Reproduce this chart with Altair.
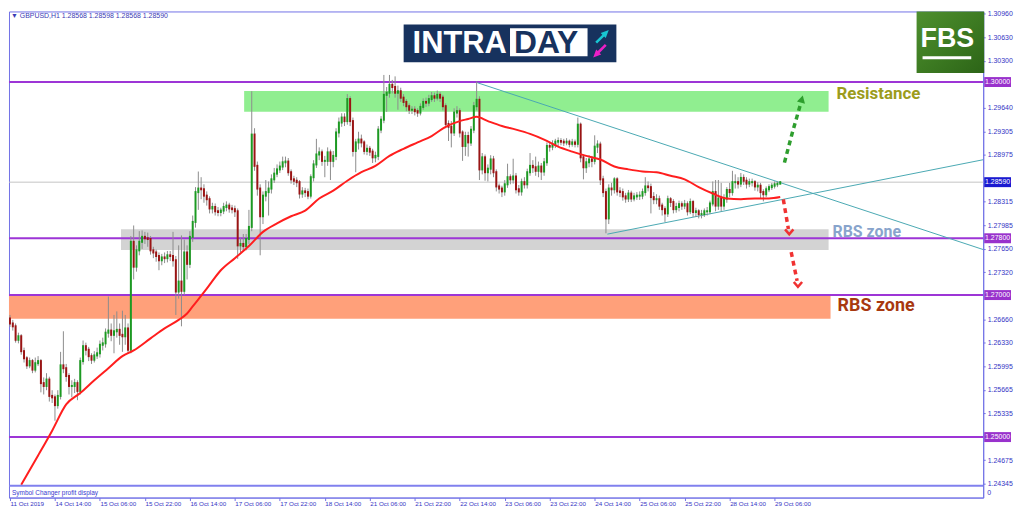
import altair as alt
import pandas as pd

# ---------------- data ----------------
first_open = 1.2667
closes = [
    1.2660, 1.2656, 1.2637, 1.2642, 1.2621, 1.2611, 1.2601, 1.2607, 1.2595, 1.2604,
    1.2607, 1.2576, 1.2572, 1.2581, 1.2558, 1.2556, 1.2545, 1.2558, 1.2601, 1.2597,
    1.2586, 1.2572, 1.2572, 1.2576, 1.2565, 1.2607, 1.2628, 1.2623, 1.2614, 1.2609,
    1.2615, 1.2618, 1.2630, 1.2632, 1.2647, 1.2650, 1.2644, 1.2649, 1.2651, 1.2644,
    1.2642, 1.2653, 1.2623, 1.2775, 1.2740, 1.2763, 1.2775, 1.2782, 1.2780, 1.2779,
    1.2763, 1.2760, 1.2755, 1.2749, 1.2753, 1.2752, 1.2756, 1.2755, 1.2749, 1.2705,
    1.2719, 1.2706, 1.2760, 1.2744, 1.2782, 1.2803, 1.2845, 1.2850, 1.2849, 1.2840,
    1.2835, 1.2822, 1.2824, 1.2818, 1.2817, 1.2819, 1.2824, 1.2826, 1.2822, 1.2821,
    1.2818, 1.2770, 1.2772, 1.2769, 1.2779, 1.2796, 1.2926, 1.2882, 1.2850, 1.2811,
    1.2840, 1.2845, 1.2850, 1.2863, 1.2871, 1.2877, 1.2881, 1.2887, 1.2888, 1.2873,
    1.2863, 1.2861, 1.2859, 1.2843, 1.2846, 1.2845, 1.2840, 1.2866, 1.2884, 1.2898,
    1.2901, 1.2889, 1.2889, 1.2901, 1.2889, 1.2896, 1.2929, 1.2943, 1.2950, 1.2945,
    1.2976, 1.2945, 1.2903, 1.2915, 1.2919, 1.2915, 1.2903, 1.2906, 1.2902, 1.2894,
    1.2896, 1.2933, 1.2947, 1.2982, 1.2985, 1.2996, 1.2993, 1.2985, 1.2987, 1.2978,
    1.2972, 1.2966, 1.2961, 1.2961, 1.2959, 1.2957, 1.2965, 1.2972, 1.2971, 1.2976,
    1.2980, 1.2978, 1.2982, 1.2978, 1.2966, 1.2941, 1.2937, 1.2929, 1.2957, 1.2959,
    1.2929, 1.2910, 1.2924, 1.2915, 1.2933, 1.2966, 1.2975, 1.2877, 1.2894, 1.2873,
    1.2878, 1.2891, 1.2873, 1.2853, 1.2850, 1.2846, 1.2856, 1.2866, 1.2863, 1.2867,
    1.2849, 1.2846, 1.2859, 1.2856, 1.2873, 1.2882, 1.2880, 1.2875, 1.2881, 1.2874,
    1.2887, 1.2910, 1.2909, 1.2912, 1.2916, 1.2917, 1.2916, 1.2915, 1.2916, 1.2913,
    1.2915, 1.2913, 1.2940, 1.2894, 1.2880, 1.2887, 1.2891, 1.2889, 1.2909, 1.2912,
    1.2863, 1.2845, 1.2808, 1.2850, 1.2849, 1.2863, 1.2846, 1.2845, 1.2839, 1.2836,
    1.2843, 1.2836, 1.2839, 1.2840, 1.2840, 1.2845, 1.2853, 1.2852, 1.2838, 1.2835,
    1.2835, 1.2826, 1.2821, 1.2815, 1.2835, 1.2831, 1.2821, 1.2824, 1.2828, 1.2826,
    1.2828, 1.2818, 1.2831, 1.2817, 1.2818, 1.2814, 1.2814, 1.2818, 1.2818, 1.2829,
    1.2845, 1.2826, 1.2836, 1.2826, 1.2836, 1.2848, 1.2845, 1.2859, 1.2859, 1.2857,
    1.2865, 1.2861, 1.2857, 1.2859, 1.2859, 1.2853, 1.2854, 1.2845, 1.2842, 1.2849,
    1.2852, 1.2854, 1.2856, 1.28568, 1.28590,
]
highs = [
    1.2672, 1.2665, 1.2660, 1.2647, 1.2645, 1.2626, 1.2614, 1.2612, 1.2610, 1.2612,
    1.2614, 1.2610, 1.2584, 1.2590, 1.2585, 1.2566, 1.2560, 1.2566, 1.2620, 1.2649,
    1.2603, 1.2590, 1.2580, 1.2582, 1.2580, 1.2612, 1.2636, 1.2633, 1.2627, 1.2618,
    1.2621, 1.2626, 1.2636, 1.2640, 1.2653, 1.2698, 1.2660, 1.2672, 1.2677, 1.2660,
    1.2678, 1.2672, 1.2660, 1.2783, 1.2798, 1.2770, 1.2790, 1.2791, 1.2789, 1.2788,
    1.2783, 1.2768, 1.2764, 1.2760, 1.2758, 1.2760, 1.2762, 1.2762, 1.2789, 1.2755,
    1.2770, 1.2784, 1.2778, 1.2770, 1.2790, 1.2812, 1.2852, 1.2874, 1.2866, 1.2856,
    1.2846, 1.2839, 1.2830, 1.2829, 1.2824, 1.2823, 1.2830, 1.2832, 1.2830, 1.2827,
    1.2826, 1.2822, 1.2780, 1.2786, 1.2786, 1.2820, 1.2987, 1.2935, 1.2888, 1.2856,
    1.2846, 1.2862, 1.2860, 1.2870, 1.2879, 1.2884, 1.2888, 1.2895, 1.2895, 1.2893,
    1.2877, 1.2868, 1.2866, 1.2862, 1.2852, 1.2851, 1.2850, 1.2870, 1.2890, 1.2920,
    1.2908, 1.2905, 1.2896, 1.2908, 1.2905, 1.2903, 1.2935, 1.2950, 1.2956, 1.2956,
    1.2983, 1.2980, 1.2950, 1.2920, 1.2930, 1.2926, 1.2918, 1.2912, 1.2910, 1.2906,
    1.2902, 1.2938, 1.2952, 1.3010, 1.2993, 1.3010, 1.3003, 1.3008, 1.2995, 1.2992,
    1.2983, 1.2976, 1.2970, 1.2966, 1.2966, 1.2963, 1.2970, 1.2977, 1.2978, 1.2982,
    1.2986, 1.2985, 1.2988, 1.2986, 1.2982, 1.2970, 1.2946, 1.2945, 1.2963, 1.2966,
    1.2963, 1.2932, 1.2930, 1.2930, 1.2938, 1.2972, 1.3001, 1.2980, 1.2900, 1.2898,
    1.2884, 1.2897, 1.2896, 1.2877, 1.2857, 1.2854, 1.2862, 1.2885, 1.2870, 1.2892,
    1.2872, 1.2855, 1.2864, 1.2866, 1.2878, 1.2900, 1.2890, 1.2895, 1.2888, 1.2886,
    1.2893, 1.2915, 1.2916, 1.2918, 1.2920, 1.2922, 1.2921, 1.2920, 1.2921, 1.2919,
    1.2920, 1.2919, 1.2950, 1.2943, 1.2898, 1.2893, 1.2897, 1.2896, 1.2925, 1.2918,
    1.2916, 1.2868, 1.2850, 1.2856, 1.2858, 1.2866, 1.2866, 1.2852, 1.2850, 1.2844,
    1.2848, 1.2847, 1.2844, 1.2845, 1.2846, 1.2850, 1.2866, 1.2860, 1.2857, 1.2845,
    1.2842, 1.2840, 1.2830, 1.2825, 1.2840, 1.2838, 1.2835, 1.2830, 1.2833, 1.2832,
    1.2834, 1.2832, 1.2836, 1.2834, 1.2823, 1.2821, 1.2820, 1.2822, 1.2824, 1.2833,
    1.2860, 1.2862, 1.2862, 1.2858, 1.2842, 1.2852, 1.2858, 1.2875, 1.2870, 1.2866,
    1.2872, 1.2870, 1.2866, 1.2864, 1.2864, 1.2862, 1.2859, 1.2858, 1.2849, 1.2853,
    1.2856, 1.2858, 1.2860, 1.2860, 1.28598,
]
lows = [
    1.2655, 1.2650, 1.2633, 1.2632, 1.2616, 1.2605, 1.2596, 1.2597, 1.2590, 1.2591,
    1.2600, 1.2563, 1.2560, 1.2566, 1.2550, 1.2548, 1.2523, 1.2540, 1.2553, 1.2590,
    1.2578, 1.2560, 1.2556, 1.2562, 1.2552, 1.2560, 1.2602, 1.2615, 1.2607, 1.2603,
    1.2605, 1.2610, 1.2612, 1.2622, 1.2626, 1.2640, 1.2635, 1.2618, 1.2640, 1.2630,
    1.2620, 1.2630, 1.2617, 1.2618, 1.2722, 1.2733, 1.2756, 1.2765, 1.2772, 1.2768,
    1.2757, 1.2752, 1.2747, 1.2735, 1.2742, 1.2745, 1.2746, 1.2748, 1.2740, 1.2672,
    1.2695, 1.2656, 1.2700, 1.2722, 1.2738, 1.2775, 1.2795, 1.2820, 1.2835, 1.2830,
    1.2826, 1.2815, 1.2815, 1.2812, 1.2811, 1.2811, 1.2814, 1.2818, 1.2816, 1.2815,
    1.2810, 1.2751, 1.2760, 1.2762, 1.2763, 1.2772, 1.2790, 1.2875, 1.2840, 1.2756,
    1.2800, 1.2832, 1.2812, 1.2843, 1.2858, 1.2866, 1.2872, 1.2876, 1.2880, 1.2868,
    1.2857, 1.2855, 1.2852, 1.2836, 1.2837, 1.2838, 1.2835, 1.2836, 1.2860, 1.2879,
    1.2890, 1.2882, 1.2866, 1.2882, 1.2862, 1.2880, 1.2890, 1.2922, 1.2937, 1.2938,
    1.2940, 1.2938, 1.2895, 1.2873, 1.2905, 1.2908, 1.2898, 1.2897, 1.2896, 1.2886,
    1.2887, 1.2890, 1.2928, 1.2942, 1.2958, 1.2978, 1.2984, 1.2978, 1.2961, 1.2972,
    1.2966, 1.2959, 1.2955, 1.2955, 1.2953, 1.2951, 1.2953, 1.2961, 1.2965, 1.2966,
    1.2972, 1.2972, 1.2974, 1.2972, 1.2960, 1.2935, 1.2917, 1.2908, 1.2924, 1.2950,
    1.2922, 1.2889, 1.2896, 1.2895, 1.2910, 1.2928, 1.2960, 1.2862, 1.2870, 1.2861,
    1.2860, 1.2870, 1.2866, 1.2846, 1.2843, 1.2838, 1.2840, 1.2851, 1.2856, 1.2857,
    1.2843, 1.2840, 1.2840, 1.2850, 1.2850, 1.2868, 1.2872, 1.2868, 1.2866, 1.2862,
    1.2868, 1.2882, 1.2902, 1.2904, 1.2907, 1.2910, 1.2911, 1.2910, 1.2911, 1.2908,
    1.2909, 1.2908, 1.2908, 1.2887, 1.2863, 1.2872, 1.2880, 1.2880, 1.2884, 1.2900,
    1.2855, 1.2838, 1.2787, 1.2800, 1.2840, 1.2843, 1.2840, 1.2838, 1.2833, 1.2830,
    1.2831, 1.2831, 1.2832, 1.2834, 1.2834, 1.2835, 1.2840, 1.2846, 1.2815, 1.2828,
    1.2828, 1.2820, 1.2812, 1.2803, 1.2810, 1.2824, 1.2815, 1.2816, 1.2818, 1.2820,
    1.2821, 1.2812, 1.2814, 1.2810, 1.2810, 1.2808, 1.2808, 1.2810, 1.2812, 1.2814,
    1.2825, 1.2818, 1.2820, 1.2818, 1.2820, 1.2830, 1.2838, 1.2840, 1.2850, 1.2850,
    1.2852, 1.2855, 1.2850, 1.2852, 1.2853, 1.2847, 1.2846, 1.2836, 1.2832, 1.2838,
    1.2845, 1.2848, 1.2850, 1.2852, 1.28568,
]

# red moving average (bar index -> value)
ma_idx = [4, 10, 15, 20, 25, 30, 35, 40, 44, 50, 55, 60, 63, 65, 70, 75, 80, 85, 90,
          95, 100, 105, 110, 115, 120, 125, 130, 135, 140, 145, 150, 155, 160, 163,
          166, 170, 175, 180, 185, 190, 195, 200, 205, 210, 215, 220, 225, 230, 235,
          240, 245, 250, 255, 260, 265, 270, 274]
ma_val = [1.2433, 1.2474, 1.2509, 1.2546, 1.2562, 1.2580, 1.2597, 1.2614, 1.2622,
          1.2639, 1.2653, 1.2665, 1.2674, 1.2684, 1.2709, 1.2735, 1.2752, 1.2769,
          1.2789, 1.2801, 1.2811, 1.2819, 1.2836, 1.2847, 1.2861, 1.2873, 1.2882,
          1.2896, 1.2906, 1.2915, 1.2924, 1.2937, 1.2945, 1.2948, 1.2951, 1.2945,
          1.2938, 1.2933, 1.2927, 1.2919, 1.2909, 1.2902, 1.2896, 1.2891, 1.2881,
          1.2877, 1.2874, 1.2873, 1.2868, 1.2863, 1.2852, 1.2843, 1.2836, 1.2835,
          1.2836, 1.2836, 1.2838]

x_tick_idx = list(range(0, 273, 16))
x_tick_labels = ["11 Oct 2019", "14 Oct 14:00", "15 Oct 06:00", "15 Oct 22:00",
                 "16 Oct 14:00", "17 Oct 06:00", "17 Oct 22:00", "18 Oct 14:00",
                 "21 Oct 06:00", "21 Oct 22:00", "22 Oct 14:00", "23 Oct 06:00",
                 "23 Oct 22:00", "24 Oct 14:00", "25 Oct 06:00", "25 Oct 22:00",
                 "28 Oct 14:00", "29 Oct 06:00"]
# scale labels that stay visible (those under the price boxes are hidden there)
y_ticks = [1.30960, 1.30630, 1.30300, 1.29640, 1.29305, 1.28975,
           1.28315, 1.27985, 1.27650, 1.27320, 1.26660, 1.26330, 1.25995,
           1.25665, 1.25335, 1.24675, 1.24345]

levels = [1.30000, 1.27800, 1.27000, 1.25000]
current_price = 1.28590

zone_x0 = [83.3, 39.5, -0.35]
zone_x1 = [291.2, 291.2, 291.9]
zone_top = [1.29874, 1.27928, 1.27000]
zone_bot = [1.29580, 1.27634, 1.26668]
zone_colors = ["#90EE90", "#D3D3D3", "#FFA07A"]

trend_id = ["down", "down", "up", "up"]
trend_idx = [166.3, 346.2, 212.5, 346.2]
trend_val = [1.29990, 1.27641, 1.27858, 1.28906]

arrow_id = ["g", "g", "g", "r1", "r1", "r2", "r2"]
arrow_idx = [275.5, 278.3, 281.3, 275.1, 276.9, 277.9, 280.0]
arrow_val = [1.28866, 1.29286, 1.29700, 1.28348, 1.27930, 1.27606, 1.27200]
arrow_col = ["#2e9e2e", "#2e9e2e", "#2e9e2e", "#f03232", "#f03232", "#f03232", "#f03232"]

ann_text = ["Resistance", "RBS zone", "RBS zone"]
ann_idx = [294.0, 292.6, 294.4]
ann_val = [1.29832, 1.27886, 1.26850]
ann_col = ["#9c9c1c", "#88a4cc", "#a8380f"]
ann_size = [17, 16, 18]

box_val = [1.30000, 1.27800, 1.27000, 1.25000, current_price]
box_lab = ["1.30000", "1.27800", "1.27000", "1.25000", "1.28590"]
box_col = ["#9932CC", "#9932CC", "#9932CC", "#9932CC", "#1a1ad0"]

# ---------------- tables ----------------
n = len(closes)
assert len(highs) == n and len(lows) == n, (n, len(highs), len(lows))
opens = [first_open] + closes[:-1]
bars = pd.DataFrame({"i": list(range(n)), "open": opens, "high": highs,
                     "low": lows, "close": closes})
bars["dir"] = ["up" if c >= o else "down" for o, c in zip(opens, closes)]

ma = pd.DataFrame({"i": ma_idx, "v": ma_val})
zones = pd.DataFrame({"x0": zone_x0, "x1": zone_x1, "t": zone_top, "b": zone_bot, "c": zone_colors})
lev = pd.DataFrame({"p": levels})
cur = pd.DataFrame({"p": [current_price]})
trend = pd.DataFrame({"id": trend_id, "i": trend_idx, "v": trend_val})
arrows = pd.DataFrame({"id": arrow_id, "i": arrow_idx, "v": arrow_val, "c": arrow_col})
ann = pd.DataFrame({"t": ann_text, "i": ann_idx, "v": ann_val, "c": ann_col, "s": ann_size})
boxes = pd.DataFrame({"p": box_val, "t": box_lab, "c": box_col})
one = pd.DataFrame({"k": [0]})

# ---------------- styling ----------------
FRAME = "#7272e6"
LABEL = "#3434c4"
FONT = "Liberation Sans"
W, H = 980, 489

X = alt.Scale(domain=[-0.35, 346.2], nice=False, zero=False)
Y = alt.Scale(domain=[1.24148, 1.30994], nice=False, zero=False)

label_array = "[" + ",".join("'" + s + "'" for s in x_tick_labels) + "]"
x_axis = alt.Axis(values=x_tick_idx, labelExpr=label_array + "[round(datum.value / 16)]",
                  labelAlign="left", labelBaseline="middle", labelPadding=3, tickSize=3,
                  labelFontSize=6.3, labelFont=FONT, labelColor=LABEL, tickColor=FRAME,
                  domainColor=FRAME, grid=False, title=None, labelOverlap=False,
                  labelFlush=False, orient="bottom")
y_axis = alt.Axis(orient="right", values=y_ticks, format=".5f", tickSize=2, labelPadding=2,
                  labelFontSize=7, labelFont=FONT, labelColor=LABEL, tickColor=FRAME,
                  domainColor=FRAME, grid=False, title=None, labelOverlap=False,
                  labelFlush=False)


def xs(f):
    return alt.X(f, type="quantitative", scale=X, axis=x_axis)


def ys(f):
    return alt.Y(f, type="quantitative", scale=Y, axis=y_axis)


zone_layer = alt.Chart(zones).mark_rect().encode(
    x=xs("x0"), x2="x1", y=ys("t"), y2="b", color=alt.Color("c:N", scale=None))
level_layer = alt.Chart(lev).mark_rule(color="#9d35d6", strokeWidth=2).encode(y=ys("p"))
cur_layer = alt.Chart(cur).mark_rule(color="#c4c4c4", strokeWidth=1).encode(y=ys("p"))
panel_line = alt.Chart(one).mark_rule(color="#8080ee", strokeWidth=2).encode(
    y=alt.value(477), x=alt.value(0), x2=alt.value(W))
trend_layer = alt.Chart(trend).mark_line(color="#4aa8b2", strokeWidth=1, clip=True).encode(
    x=xs("i"), y=ys("v"), detail="id:N")
wick_layer = alt.Chart(bars).mark_rule(color="#8c8c8c", strokeWidth=1).encode(
    x=xs("i"), y=ys("low"), y2="high")
body_layer = alt.Chart(bars).mark_rule(strokeWidth=2, strokeCap="square").encode(
    x=xs("i"), y=ys("open"), y2="close",
    color=alt.Color("dir:N", scale=alt.Scale(domain=["up", "down"], range=["#1c9a22", "#9a1414"]),
                    legend=None))
ma_layer = alt.Chart(ma).mark_line(color="#ff1e1e", strokeWidth=2, interpolate="monotone").encode(
    x=xs("i"), y=ys("v"))
arrow_layer = alt.Chart(arrows).mark_line(strokeWidth=3.5, strokeDash=[5, 4]).encode(
    x=xs("i"), y=ys("v"), detail="id:N", color=alt.Color("c:N", scale=None))
green_head = alt.Chart(pd.DataFrame({"i": [281.7], "v": [1.29760]})).mark_point(
    shape="triangle-up", filled=True, size=70, angle=15, color="#2e9e2e", opacity=1).encode(
    x=xs("i"), y=ys("v"))
red_head = alt.Chart(pd.DataFrame({"i": [277.2, 280.3], "v": [1.27890, 1.27150]})).mark_point(
    shape="M -1 -0.6 L 0 0.6 L 1 -0.6", filled=False, size=70, strokeWidth=2.5,
    color="#f03232", opacity=1).encode(x=xs("i"), y=ys("v"))
ann_layer = alt.Chart(ann).mark_text(align="left", baseline="middle", fontWeight="bold",
                                     font="Roboto").encode(
    x=xs("i"), y=ys("v"), text="t:N", color=alt.Color("c:N", scale=None),
    size=alt.Size("s:Q", scale=None))
box_layer = alt.Chart(boxes).mark_rule(strokeWidth=10).encode(
    x=alt.value(W + 1), x2=alt.value(W + 28), y=ys("p"), color=alt.Color("c:N", scale=None))
box_text = alt.Chart(boxes).mark_text(color="white", fontSize=7, font=FONT, align="center",
                                      baseline="middle").encode(
    x=alt.value(W + 14.5), y=ys("p"), text="t:N")

# logos and captions
intra_bg = alt.Chart(one).mark_rect(color="#17325e").encode(
    x=alt.value(397), x2=alt.value(611), y=alt.value(13), y2=alt.value(51))
intra_box = alt.Chart(one).mark_rect(color="white").encode(
    x=alt.value(504), x2=alt.value(582), y=alt.value(17), y2=alt.value(45))
intra_t1 = alt.Chart(one).mark_text(text="INTRA", color="white", fontSize=31, fontWeight="bold",
                                    font=FONT, align="left", baseline="alphabetic").encode(
    x=alt.value(406), y=alt.value(42))
intra_t2 = alt.Chart(one).mark_text(text="DAY", color="#17325e", fontSize=32, fontWeight="bold",
                                    font=FONT, align="left", baseline="alphabetic").encode(
    x=alt.value(508), y=alt.value(42))
arrow_c = alt.Chart(one).mark_point(shape="arrow", filled=True, size=320, angle=45,
                                    color="#18c6d2", opacity=1).encode(
    x=alt.value(597), y=alt.value(25))
arrow_m = alt.Chart(one).mark_point(shape="arrow", filled=True, size=320, angle=225,
                                    color="#ec1fc6", opacity=1).encode(
    x=alt.value(594), y=alt.value(40))
fbs_bg = alt.Chart(one).mark_rect(
    color=alt.Gradient(gradient="linear",
                       stops=[alt.GradientStop(color="#4e8f2f", offset=0),
                              alt.GradientStop(color="#3d7b22", offset=0.5),
                              alt.GradientStop(color="#2c6417", offset=1)],
                       x1=0, x2=1, y1=0, y2=1)).encode(
    x=alt.value(913), x2=alt.value(981), y=alt.value(0), y2=alt.value(62))
fbs_text = alt.Chart(one).mark_text(text="FBS", color="white", fontSize=27, fontWeight="bold",
                                    font=FONT, align="center", baseline="middle").encode(
    x=alt.value(944), y=alt.value(28))
fbs_line = alt.Chart(one).mark_rect(color="white").encode(
    x=alt.value(919), x2=alt.value(968), y=alt.value(45), y2=alt.value(48))
title_text = alt.Chart(one).mark_text(text="\u25bc GBPUSD,H1  1.28568 1.28598 1.28568 1.28590",
                                      color="#3a3ab4", fontSize=7, font=FONT, align="left",
                                      baseline="middle").encode(
    x=alt.value(2), y=alt.value(5))
sub_text = alt.Chart(one).mark_text(text="Symbol Changer profit display", color="#3a3ad0",
                                    fontSize=6.5, font=FONT, align="left",
                                    baseline="middle").encode(
    x=alt.value(3), y=alt.value(484))
zero_text = alt.Chart(one).mark_text(text="0", color=LABEL, fontSize=7, font=FONT,
                                     align="left", baseline="middle").encode(
    x=alt.value(W + 4), y=alt.value(484))

chart = alt.layer(
    zone_layer, level_layer, cur_layer, trend_layer, wick_layer, body_layer, ma_layer,
    arrow_layer, green_head, red_head, ann_layer, panel_line, box_layer, box_text,
    intra_bg, intra_box, intra_t1, intra_t2, arrow_c, arrow_m,
    fbs_bg, fbs_text, fbs_line, title_text, sub_text, zero_text,
).properties(width=W, height=H, padding=0, background="white").configure_view(
    stroke=FRAME, strokeWidth=1)

chart.save("out.html", embed_options={"renderer": "svg", "actions": False})
